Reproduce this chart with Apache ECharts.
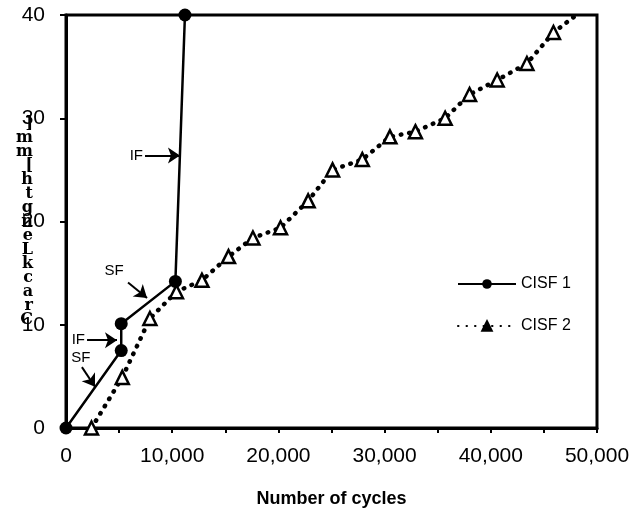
<!DOCTYPE html>
<html>
<head>
    <meta charset="utf-8">
    <title>Crack length vs cycles</title>
    <script src="https://cdn.jsdelivr.net/npm/echarts@6/dist/echarts.min.js"></script>
    <style>
        html, body { margin: 0; padding: 0; background: #fff; }
        #main { width: 631px; height: 520px; }
    </style>
</head>
<body>
<div id="main"></div>
<script type="text/javascript">
    // data
    var cisf1Cycles = [0, 5200, 5200, 10300, 11200];
    var cisf1Length = [0, 7.5, 10.1, 14.2, 40];

    var cisf2Cycles = [2400, 5300, 7900, 10400, 12800, 15300, 17600, 20200, 22800, 25100,
        27900, 30500, 32900, 35700, 38000, 40600, 43400, 45900, 47800];
    var cisf2Length = [0, 4.9, 10.6, 13.2, 14.3, 16.6, 18.4, 19.4, 22.0, 25.0,
        26.0, 28.2, 28.7, 30.0, 32.3, 33.7, 35.3, 38.3, 39.8];

    var xTicks = [0, 10000, 20000, 30000, 40000, 50000];
    var yTicks = [0, 10, 20, 30, 40];

    // arrow notes: label, start point, end point (data coords)
    var noteNames = ['IF', 'SF', 'IF', 'SF'];
    var noteFrom = [[7440, 26.4], [5840, 14.1], [1980, 8.5], [1500, 5.9]];
    var noteTo = [[10730, 26.4], [7630, 12.6], [4800, 8.5], [2730, 4.0]];
    var noteGap = [2, 18, 2, 2];

    var yName = 'Crack Length [mm]';

    var chartDom = document.getElementById('main');
    var myChart = echarts.init(chartDom);

    var cisf1Data = [];
    for (var i = 0; i < cisf1Cycles.length; i++) {
        cisf1Data.push([cisf1Cycles[i], cisf1Length[i]]);
    }
    var cisf2Data = [];
    for (var j = 0; j < cisf2Cycles.length; j++) {
        var item = {value: [cisf2Cycles[j], cisf2Length[j]]};
        if (j === cisf2Cycles.length - 1) item.symbol = 'none';
        cisf2Data.push(item);
    }
    var notes = [];
    for (var k = 0; k < noteNames.length; k++) {
        notes.push([
            {name: noteNames[k], coord: noteFrom[k], label: {distance: noteGap[k]}},
            {coord: noteTo[k]}
        ]);
    }

    // the axis title comes out garbled in the source: stacked reversed letters
    var stacked = yName.split('').reverse().filter(function (c) { return c !== ' '; }).join('\n');

    var option = {
        animation: false,
        textStyle: {fontFamily: 'Liberation Sans, Arial, sans-serif', color: '#000'},
        grid: {
            left: 66, right: 34, top: 15, bottom: 92,
            outerBoundsMode: 'none',
            containLabel: false,
            show: true, borderColor: '#000', borderWidth: 3
        },
        legend: {
            orient: 'vertical',
            left: 452,
            top: 271,
            itemWidth: 58,
            itemHeight: 12,
            itemGap: 26,
            textStyle: {fontSize: 16, color: '#000', fontFamily: 'Liberation Sans, Arial, sans-serif'},
            data: [
                {name: 'CISF 1'},
                {name: 'CISF 2', itemStyle: {color: '#000', borderColor: '#000'}}
            ]
        },
        xAxis: {
            type: 'value',
            min: 0,
            max: 50000,
            interval: 5000,
            name: 'Number of cycles',
            nameLocation: 'middle',
            nameGap: 62,
            nameMoveOverlap: false,
            nameTextStyle: {fontSize: 18, fontWeight: 'bold', color: '#000'},
            axisLine: {lineStyle: {color: '#000', width: 3}},
            axisTick: {show: true, length: 5, lineStyle: {color: '#000', width: 2}},
            splitLine: {show: false},
            axisLabel: {
                fontSize: 21, color: '#000', margin: 18,
                formatter: function (v) {
                    return xTicks.indexOf(v) >= 0 ? v.toLocaleString('en-US') : '';
                }
            }
        },
        yAxis: {
            type: 'value',
            min: 0,
            max: 40,
            interval: 10,
            name: stacked,
            nameLocation: 'middle',
            nameRotate: 0,
            nameGap: 33,
            nameMoveOverlap: false,
            nameTextStyle: {
                fontSize: 16, lineHeight: 14, color: '#000',
                fontFamily: 'DejaVu Serif, serif', fontWeight: 'bold'
            },
            axisLine: {lineStyle: {color: '#000', width: 3}},
            axisTick: {show: true, length: 6, lineStyle: {color: '#000', width: 2}},
            splitLine: {show: false},
            axisLabel: {
                fontSize: 21, color: '#000', margin: 21,
                formatter: function (v) {
                    return yTicks.indexOf(v) >= 0 ? String(v) : '';
                }
            }
        },
        series: [
            {
                name: 'CISF 1',
                type: 'line',
                data: cisf1Data,
                symbol: 'circle',
                symbolSize: 13,
                itemStyle: {color: '#000'},
                lineStyle: {color: '#000', width: 2.5},
                z: 3,
                markLine: {
                    silent: true,
                    symbol: ['none', 'arrow'],
                    symbolSize: [12, 12],
                    lineStyle: {color: '#000', width: 2, type: 'solid'},
                    label: {
                        show: true,
                        position: 'start',
                        distance: 2,
                        formatter: '{b}',
                        fontSize: 15,
                        color: '#000',
                        fontFamily: 'Liberation Sans, Arial, sans-serif'
                    },
                    data: notes
                }
            },
            {
                name: 'CISF 2',
                type: 'line',
                data: cisf2Data,
                symbol: 'triangle',
                symbolSize: 13,
                itemStyle: {color: '#fff', borderColor: '#000', borderWidth: 2.5},
                lineStyle: {color: '#000', width: 4.5, type: [0.5, 8], cap: 'round'},
                z: 2
            }
        ]
    };

    option && myChart.setOption(option);
</script>
</body>
</html>
